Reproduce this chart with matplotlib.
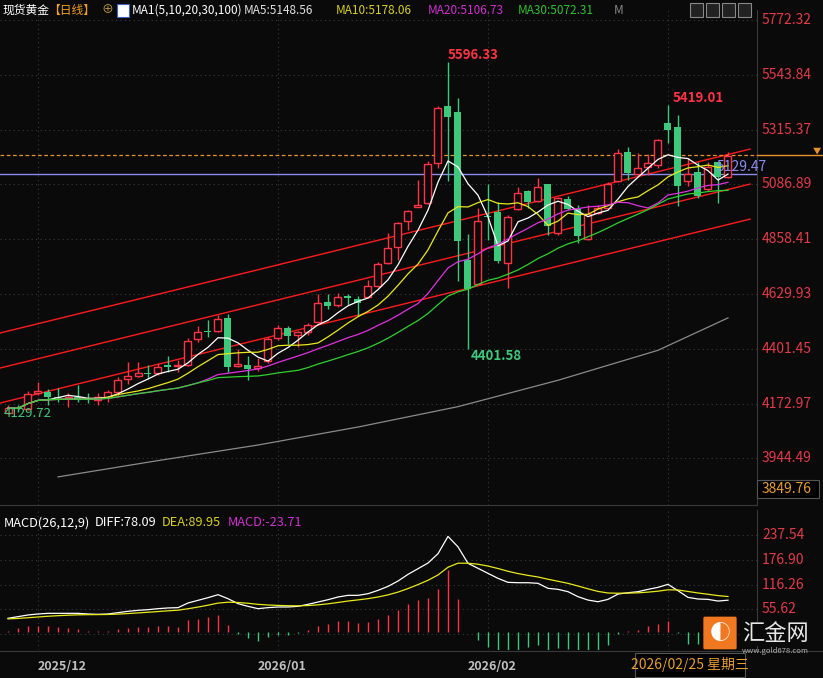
import matplotlib
matplotlib.use("Agg")
import matplotlib.pyplot as plt
from matplotlib.patches import FancyBboxPatch, Rectangle
import numpy as np
import pandas as pd

# daily OHLC, 2025-11-27 .. 2026-02-25
opens = [4135, 4156, 4150, 4217, 4221, 4202, 4196, 4200, 4196, 4188,
         4200, 4221, 4275, 4286, 4302, 4300, 4334, 4330, 4334, 4442,
         4477, 4475, 4530, 4330, 4334, 4321, 4350, 4446, 4488, 4459,
         4471, 4513, 4597, 4584, 4621, 4609, 4617, 4663, 4759, 4826,
         4934, 4992, 5009, 5176, 5414, 5389, 4771, 4671, 4957, 4972,
         4759, 4984, 5059, 5017, 5088, 4884, 5026, 4984, 4859, 4967,
         4988, 5101, 5222, 5130, 5159, 5168, 5343, 5326, 5101, 5138,
         5067, 5180, 5117]
highs = [4167, 4168, 4225, 4263, 4234, 4238, 4217, 4250, 4217, 4217,
         4229, 4284, 4346, 4346, 4334, 4342, 4371, 4355, 4446, 4496,
         4521, 4542, 4546, 4400, 4371, 4363, 4450, 4500, 4496, 4475,
         4509, 4630, 4630, 4634, 4630, 4621, 4688, 4763, 4884, 4930,
         4980, 5105, 5184, 5414, 5596.33, 5447, 4880, 4988, 5088, 5013,
         4960, 5076, 5063, 5113, 5090, 5034, 5038, 5001, 5001, 5001,
         5097, 5234, 5243, 5218, 5214, 5276, 5419.01, 5376, 5197, 5180,
         5180, 5180, 5222]
lows = [4129.72, 4138, 4146, 4209, 4167, 4180, 4159, 4180, 4175, 4167,
        4180, 4204, 4254, 4284, 4275, 4292, 4304, 4304, 4330, 4430,
        4450, 4471, 4304, 4325, 4271, 4309, 4342, 4438, 4421, 4409,
        4459, 4509, 4567, 4576, 4584, 4538, 4613, 4659, 4755, 4771,
        4896, 4992, 5005, 5155, 5101, 4684, 4401.58, 4667, 4855, 4759,
        4655, 4980, 4988, 5013, 4876, 4876, 4980, 4842, 4855, 4963,
        4984, 5097, 5105, 5122, 5126, 5155, 5259, 4997, 5080, 5030,
        5059, 5009, 5113]
closes = [4154, 4152, 4213, 4225, 4200, 4198, 4200, 4188, 4188, 4200,
          4221, 4271, 4288, 4300, 4296, 4325, 4325, 4334, 4434, 4471,
          4473, 4525, 4325, 4336, 4317, 4330, 4442, 4488, 4455, 4471,
          4500, 4592, 4580, 4617, 4613, 4592, 4663, 4755, 4822, 4926,
          4976, 5001, 5172, 5405, 5368, 4851, 4651, 4934, 4951, 4767,
          4951, 5051, 5013, 5076, 4913, 5030, 4984, 4871, 4963, 4988,
          5088, 5218, 5134, 5155, 5176, 5272, 5314, 5080, 5130, 5038,
          5159, 5117, 5205]

# MA100 read at a few candles
ma100_idx = [5, 15, 25, 35, 45, 55, 65, 72]
ma100_val = [3867, 3935, 4000, 4075, 4160, 4270, 4395, 4530]

# MACD DIFF line
diff = [33.6, 37.7, 41.8, 44.2, 45.8, 45.8, 45.8, 45.8, 44.2, 43.4,
        44.2, 47.5, 50.8, 53.2, 54.8, 57.3, 59.0, 59.8, 71.2, 77.7,
        84.3, 91.6, 81.8, 69.6, 63.0, 57.3, 59.8, 61.4, 61.4, 63.0,
        67.9, 73.6, 79.3, 85.9, 90.0, 90.0, 94.0, 102.2, 112.0, 125.1,
        141.5, 155.4, 169.3, 192.2, 234.7, 209.0, 168.6, 156.3, 144.0, 131.7,
        121.9, 121.0, 121.0, 119.5, 107.2, 104.7, 99.0, 86.7, 78.4, 74.3,
        80.1, 93.2, 96.4, 99.0, 104.7, 109.6, 117.0, 101.4, 85.0, 81.0,
        80.1, 76.0, 78.09]
dea_start = 31.9

price_ticks = [5772.32, 5543.84, 5315.37, 5086.89, 4858.41, 4629.93, 4401.45, 4172.97, 3944.49]
macd_ticks = [237.54, 176.90, 116.26, 55.62, -5.02]
month_labels = ["2025/12", "2026/01", "2026/02"]
month_idx = [3, 27, 48]
label_idx = [5.4, 27.4, 48.4]

BG = "#0a0a0a"
RED = "#ff3343"
GREEN = "#3cc97c"
AXRED = "#e23a48"
W, H = 823, 678

plt.rcParams["font.family"] = ["Noto Sans CJK SC", "DejaVu Sans"]
fig = plt.figure(figsize=(W / 100, H / 100), dpi=100, facecolor=BG)


def fx(x):
    return x / W


def fy(y):
    return 1 - y / H


def px2i(x):
    return (x - 8) / 10.0


def py2p(y):
    return 5855.7 - 4.17 * y


n = len(closes)
idx = np.arange(n)

ax = fig.add_axes([0, fy(505), fx(757), (505 - 10) / H], facecolor=BG)
ax.set_xlim(px2i(0), px2i(757))
ax.set_ylim(py2p(505), py2p(10))
for s in ax.spines.values():
    s.set_visible(False)
ax.spines["right"].set_visible(True)
ax.spines["right"].set_color("#3a3a3a")
ax.set_xticks([])
ax.set_yticks([])
for t in price_ticks:
    ax.axhline(t, color="#3a3a3a", lw=0.8, ls=(0, (1, 3)), zorder=0)
for m in month_idx + [66]:
    ax.axvline(m, color="#3a3a3a", lw=0.8, ls=(0, (1, 3)), zorder=0)

# channel lines
for a, b in [(4467, 5234), (4321, 5088), (4175, 4942)]:
    ax.plot([px2i(0), px2i(750)], [a, b], color="#ff1a1a", lw=1, zorder=1)

# candles
o = np.array(opens); c = np.array(closes)
up = c >= o
ax.vlines(idx, lows, highs, colors=[RED if u else GREEN for u in up], lw=1, zorder=3)
bot = np.minimum(o, c)
hgt = np.maximum(np.abs(c - o), 3)
ax.bar(idx[up], hgt[up], bottom=bot[up], width=0.7, facecolor=BG, edgecolor=RED, lw=1, zorder=4)
ax.bar(idx[~up], hgt[~up], bottom=bot[~up], width=0.7, color=GREEN, lw=0, zorder=4)

cs = pd.Series(closes)
for per, col in [(5, "white"), (10, "#e8e81c"), (20, "#e030e0"), (30, "#2ed12e")]:
    ax.plot(idx, cs.rolling(per, min_periods=1).mean(), color=col, lw=0.9, zorder=5)
ax.plot(ma100_idx, ma100_val, color="#8a8a8a", lw=0.9, zorder=2)

ax.axhline(5129.47, color="#8c8cf0", lw=1, zorder=2)
ax.axhline(5209, color="#e8902a", lw=0.9, ls=(0, (3, 2)), zorder=2)

ax.text(44, 5596.33, "5596.33", color=RED, fontsize=9.5, fontweight="bold", va="bottom", ha="left", zorder=8)
ax.text(66.5, 5419.01, "5419.01", color=RED, fontsize=9.5, fontweight="bold", va="bottom", ha="left", zorder=8)
ax.text(46.3, 4401.58, "4401.58", color=GREEN, fontsize=9.5, fontweight="bold", va="top", ha="left", zorder=8)
ax.text(-0.4, 4129.72, "4129.72", color=GREEN, fontsize=9.5, va="center", ha="left", zorder=8)
ax.text(70.9, 5129.47, "5129.47", color="#8c8cf0", fontsize=10, va="bottom", ha="left", zorder=8)

# orange dashed marker continues past the axis
fig.lines.append(plt.Line2D([fx(757), fx(823)], [fy(155), fy(155)], color="#e8902a", lw=1, transform=fig.transFigure))
fig.text(fx(817), fy(151), "▼", color="#e8902a", fontsize=6, ha="center", va="center")

for t in price_ticks:
    y = 20 + (5772.32 - t) / 4.17
    fig.text(fx(762), fy(y), f"{t:.2f}", color=AXRED, fontsize=10, va="center", ha="left")
fig.patches.append(Rectangle((fx(757), fy(498)), fx(62), 18 / H, transform=fig.transFigure,
                             facecolor="#000000", edgecolor="#555555", lw=0.8))
fig.text(fx(762), fy(489), "3849.76", color="#e8a030", fontsize=10, va="center", ha="left")

# header
hdr = [(3, "现货黄金", "white"), (48, "【日线】", "#f0a020"), (101, "⊕", "#c8a040"),
       (132, "MA1(5,10,20,30,100)", "white"), (244, "MA5:5148.56", "#e0e0e0"),
       (336, "MA10:5178.06", "#d8d020"), (428, "MA20:5106.73", "#d030d0"),
       (518, "MA30:5072.31", "#30c030"), (614, "M", "#888888")]
for x, s, col in hdr:
    fig.text(fx(x), fy(10), s, color=col, fontsize=8.5, va="center", ha="left")
fig.patches.append(Rectangle((fx(117), fy(17)), fx(12), 13 / H, transform=fig.transFigure,
                             facecolor="white", edgecolor="#4060c0", lw=0.8))
for k in range(4):
    fig.patches.append(Rectangle((fx(690 + 16 * k), fy(17)), fx(13), 14 / H, transform=fig.transFigure,
                                 facecolor="#222222", edgecolor="#888888", lw=0.8))
fig.lines.append(plt.Line2D([0, fx(757)], [fy(505), fy(505)], color="#3a3a3a", lw=0.8, transform=fig.transFigure))

# MACD panel
dea = []
prev = dea_start
for d in diff:
    prev = prev + 0.2 * (d - prev)
    dea.append(prev)
dea = np.array(dea)
macd = 2 * (np.array(diff) - dea)

mx = fig.add_axes([0, fy(650), fx(757), (650 - 510) / H], facecolor=BG)
mx.set_xlim(px2i(0), px2i(757))
mx.set_ylim((632 - 650) * 2.455, (632 - 510) * 2.455)
for s in mx.spines.values():
    s.set_visible(False)
mx.spines["right"].set_visible(True)
mx.spines["right"].set_color("#3a3a3a")
mx.set_xticks([]); mx.set_yticks([])
for t in macd_ticks:
    mx.axhline(t, color="#3a3a3a", lw=0.8, ls=(0, (1, 3)), zorder=0)
for m in month_idx + [66]:
    mx.axvline(m, color="#3a3a3a", lw=0.8, ls=(0, (1, 3)), zorder=0)
mx.vlines(idx, 0, macd, colors=[RED if v >= 0 else GREEN for v in macd], lw=1)
mx.plot(idx, diff, color="white", lw=0.9)
mx.plot(idx, dea, color="#e8e81c", lw=0.9)
for t in macd_ticks:
    y = 632 - t / 2.455
    fig.text(fx(762), fy(y), f"{t:.2f}", color=AXRED, fontsize=10, va="center", ha="left")
mh = [(4, "MACD(26,12,9)", "white"), (95, "DIFF:78.09", "white"),
      (162, "DEA:89.95", "#d8d020"), (228, "MACD:-23.71", "#d030d0")]
for x, s, col in mh:
    fig.text(fx(x), fy(523), s, color=col, fontsize=9.2, va="center", ha="left")

fig.lines.append(plt.Line2D([0, 1], [fy(651), fy(651)], color="#3a3a3a", lw=0.8, transform=fig.transFigure))

# logo (drawn over the lowest MACD tick label, as in the source)
fig.patches.append(FancyBboxPatch((fx(705), fy(648)), fx(30), 30 / H, boxstyle="round,pad=0.002",
                                  transform=fig.transFigure, facecolor="#f07820", edgecolor="none", zorder=5))
fig.text(fx(720), fy(633), "◐", color="white", fontsize=15, ha="center", va="center", zorder=6)
fig.text(fx(742), fy(634), "汇金网", color="#e8e8e8", fontsize=16, ha="left", va="center", zorder=6,
         bbox=dict(facecolor=BG, edgecolor="none", pad=0.5))
fig.text(fx(742), fy(651), "www.gold678.com", color="#b0b0b0", fontsize=5.5, ha="left", va="center")

# date strip
for m, lab in zip(label_idx, month_labels):
    fig.text(fx(8 + 10 * m), fy(666), lab, color="#c0c0c0", fontsize=9, fontweight="bold", ha="center", va="center")
fig.patches.append(Rectangle((fx(635), fy(677)), fx(110), 24 / H, transform=fig.transFigure,
                             facecolor="#000000", edgecolor="#555555", lw=0.8))
fig.text(fx(690), fy(665), "2026/02/25 星期三", color="#e8a030", fontsize=10, ha="center", va="center")

fig.savefig("out.png", dpi=100, facecolor=BG)
